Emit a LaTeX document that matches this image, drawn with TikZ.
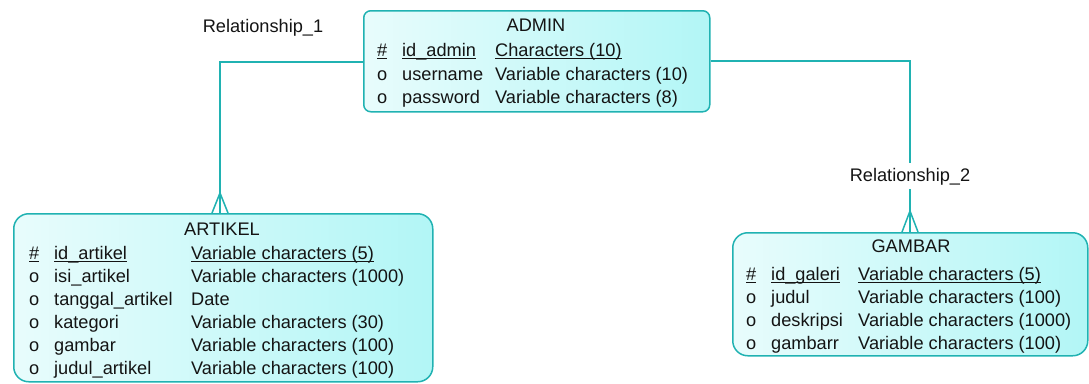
\documentclass[tikz,border=0pt]{standalone}
\usepackage{fontspec}
\setmainfont{Liberation Sans}
\definecolor{edge}{RGB}{32,178,178}
\definecolor{fillL}{RGB}{232,252,252}
\definecolor{fillR}{RGB}{178,246,246}
\definecolor{ink}{RGB}{20,20,20}
\newcommand\ulx[1]{\setbox0\hbox{#1}\rlap{\rule[-2.6pt]{\wd0}{1pt}}\box0}
\begin{document}
\begin{tikzpicture}[x=1pt,y=-1pt,
  ent/.style={draw=edge, line width=1.5pt, left color=fillL, right color=fillR, inner sep=0pt, anchor=north west},
  txt/.style={anchor=base west, inner sep=0pt, font=\fontsize{18.2}{20}\selectfont, text=ink},
  ttl/.style={anchor=base, inner sep=0pt, font=\fontsize{18.2}{20}\selectfont, text=ink},
  conn/.style={draw=edge, line width=1.5pt}]
\useasboundingbox (0,0) rectangle (1089,383);
% entity boxes
\node[ent, rounded corners=7pt, minimum width=346pt, minimum height=101pt] (admin) at (363,10) {};
\node[ent, rounded corners=15pt, minimum width=419pt, minimum height=168pt] (artikel) at (13,213) {};
\node[ent, rounded corners=15pt, minimum width=355pt, minimum height=123pt] (gambar) at (732,232) {};
% ADMIN
\node[ttl] (at) at (536,31) {ADMIN};
\node[txt] (a1m) at (377,56) {\ulx{\#}};
\node[txt] (a1n) at (402,56) {\ulx{id\_admin}};
\node[txt] (a1t) at (495,56) {\ulx{Characters (10)}};
\node[txt] (a2m) at (377,80) {o};
\node[txt] (a2n) at (402,80) {username};
\node[txt] (a2t) at (495,80) {Variable characters (10)};
\node[txt] (a3m) at (377,103) {o};
\node[txt] (a3n) at (402,103) {password};
\node[txt] (a3t) at (495,103) {Variable characters (8)};
% ARTIKEL
\node[ttl] (bt) at (222,235) {ARTIKEL};
\node[txt] (b1m) at (29,259) {\ulx{\#}};
\node[txt] (b1n) at (54,259) {\ulx{id\_artikel}};
\node[txt] (b1t) at (191,259) {\ulx{Variable characters (5)}};
\node[txt] (b2m) at (29,282) {o};
\node[txt] (b2n) at (54,282) {isi\_artikel};
\node[txt] (b2t) at (191,282) {Variable characters (1000)};
\node[txt] (b3m) at (29,305) {o};
\node[txt] (b3n) at (54,305) {tanggal\_artikel};
\node[txt] (b3t) at (191,305) {Date};
\node[txt] (b4m) at (29,328) {o};
\node[txt] (b4n) at (54,328) {kategori};
\node[txt] (b4t) at (191,328) {Variable characters (30)};
\node[txt] (b5m) at (29,351) {o};
\node[txt] (b5n) at (54,351) {gambar};
\node[txt] (b5t) at (191,351) {Variable characters (100)};
\node[txt] (b6m) at (29,374) {o};
\node[txt] (b6n) at (54,374) {judul\_artikel};
\node[txt] (b6t) at (191,374) {Variable characters (100)};
% GAMBAR
\node[ttl] (gt) at (911,252) {GAMBAR};
\node[txt] (g1m) at (746,280) {\ulx{\#}};
\node[txt] (g1n) at (771,280) {\ulx{id\_galeri}};
\node[txt] (g1t) at (858,280) {\ulx{Variable characters (5)}};
\node[txt] (g2m) at (746,303) {o};
\node[txt] (g2n) at (771,303) {judul};
\node[txt] (g2t) at (858,303) {Variable characters (100)};
\node[txt] (g3m) at (746,326) {o};
\node[txt] (g3n) at (771,326) {deskripsi};
\node[txt] (g3t) at (858,326) {Variable characters (1000)};
\node[txt] (g4m) at (746,349) {o};
\node[txt] (g4n) at (771,349) {gambarr};
\node[txt] (g4t) at (858,349) {Variable characters (100)};
% relationship labels
\node[ttl] (rel1) at (263,32) {Relationship\_1};
\node[ttl] (rel2) at (910,181) {Relationship\_2};
% Relationship_1
\coordinate (r1turn) at (220,62);
\coordinate (r1foot) at (220,193);
\draw[conn] (admin.west |- r1turn) -- (r1turn) -- (artikel.north -| r1turn);
\draw[conn] ([xshift=-8pt]artikel.north -| r1turn) -- (r1foot) -- ([xshift=8pt]artikel.north -| r1turn);
% Relationship_2
\coordinate (r2turn) at (910,61);
\coordinate (r2end) at (910,163);
\coordinate (r2start) at (910,189);
\coordinate (r2foot) at (910,211);
\draw[conn] (admin.east |- r2turn) -- (r2turn) -- (r2end);
\draw[conn] (r2start) -- (gambar.north -| r2start);
\draw[conn] ([xshift=-8pt]gambar.north -| r2start) -- (r2foot) -- ([xshift=8pt]gambar.north -| r2start);
\end{tikzpicture}
\end{document}
